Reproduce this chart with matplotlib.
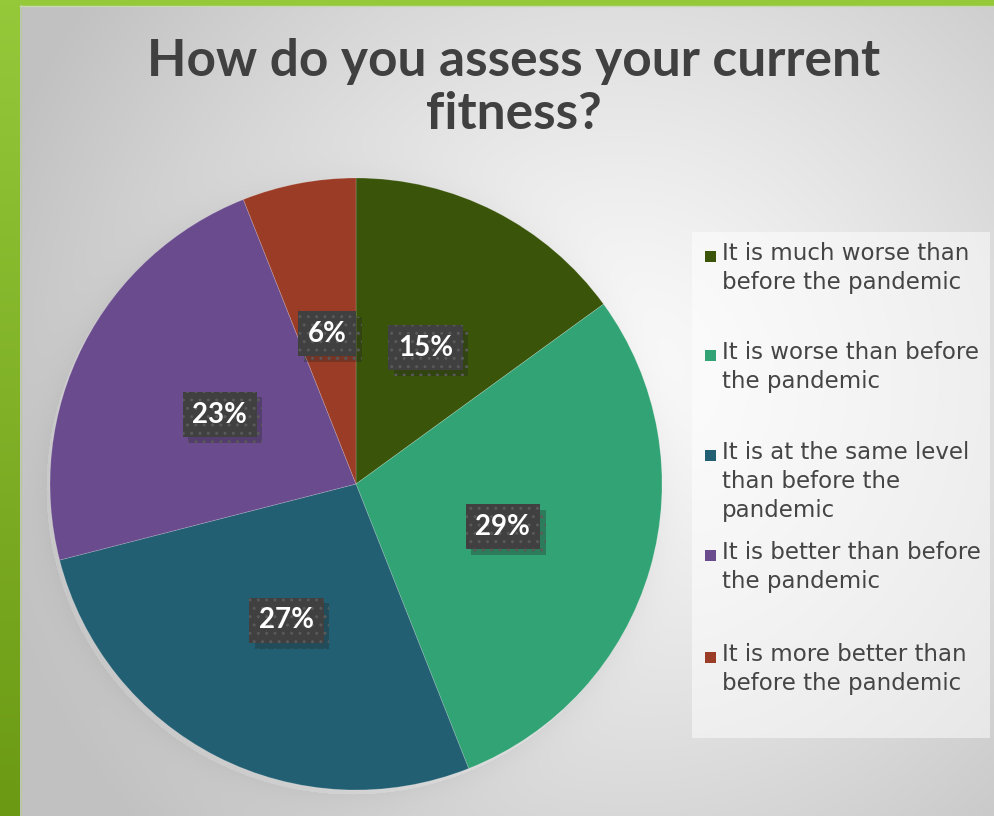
import numpy as np
import matplotlib
matplotlib.use("Agg")
import matplotlib.pyplot as plt
from matplotlib import patheffects
from matplotlib.patches import Rectangle

# ---- data ----
categories = [
    "It is much worse than\nbefore the pandemic",
    "It is worse than before\nthe pandemic",
    "It is at the same level\nthan before the\npandemic",
    "It is better than before\nthe pandemic",
    "It is more better than\nbefore the pandemic",
]
shares = [15, 29, 27, 23, 6]
colors = ["#3a540a", "#31a374", "#225f72", "#6a4b8e", "#9b3c27"]
title = "How do you assess your current\nfitness?"

W, H, DPI = 995, 816, 100
fig = plt.figure(figsize=(W / DPI, H / DPI), dpi=DPI)

# ---- background: soft radial grey gradient with green frame ----
bg = fig.add_axes([0, 0, 1, 1])
bg.set_axis_off()
yy, xx = np.mgrid[0:H, 0:W]
cx, cy = 620, 380
d = np.sqrt((xx - cx) ** 2 + (yy - cy) ** 2)
v = np.clip(0.985 - 0.22 * (d / 640) ** 1.2, 0.76, 1.0)
# soft shadow around the pie, mostly towards the lower left
pcx, pcy, pr = 356, 484, 306
dp = np.sqrt((xx - pcx + 4) ** 2 + (yy - pcy - 4) ** 2)
shade = np.where(dp > pr, 0.04 * np.exp(-(dp - pr) / 16.0), 0.0)
v = v - shade
img = np.dstack([v, v, v])
bg.imshow(img, extent=[0, W, H, 0], aspect="auto", interpolation="bilinear")
bg.set_xlim(0, W)
bg.set_ylim(H, 0)

# green frame (vertical gradient on the left edge, bar on top)
gtop = np.array([0x95, 0xc9, 0x3a]) / 255
gbot = np.array([0x6b, 0x99, 0x14]) / 255
t = np.linspace(0, 1, H)[:, None]
green = (gtop[None, :] * (1 - t) + gbot[None, :] * t)[:, None, :]
bg.imshow(green, extent=[0, 20, H, 0], aspect="auto", zorder=2)
bg.add_patch(Rectangle((0, 0), W, 5, color="#95c93a", zorder=2))
bg.plot([20.5, 20.5], [5, H], color="#b9c9a0", lw=1, zorder=3)
bg.plot([20, W], [5.5, 5.5], color="#c8d8b0", lw=1, zorder=3)

# ---- title ----
fig.text(514 / W, 1 - 88 / H, title, ha="center", va="center",
         fontsize=37, fontweight="bold", color="#404040",
         family=["Lato", "DejaVu Sans"], linespacing=1.14)

# ---- pie ----
r_px = 306
ax = fig.add_axes([(pcx - r_px) / W, (H - pcy - r_px) / H, 2 * r_px / W, 2 * r_px / H])
ax.set_axis_off()
wedges, texts, autotexts = ax.pie(
    shares, colors=colors, startangle=90, counterclock=False, radius=1,
    autopct=lambda p: f"{p:.0f}%", pctdistance=0.5,
    wedgeprops=dict(linewidth=0.6, edgecolor=(1, 1, 1, 0.2)),
    textprops=dict(color="white", fontsize=20, fontweight="bold",
                   family=["Lato", "DejaVu Sans"]),
)
ax.set_xlim(-1, 1)
ax.set_ylim(-1, 1)
ax.set_aspect("auto")

matplotlib.rcParams["hatch.linewidth"] = 1.0
for at in autotexts:
    at.set_bbox(dict(boxstyle="square,pad=0.35", facecolor="#404040",
                     edgecolor="#595959", linewidth=0, hatch=".."))
    at.get_bbox_patch().set_path_effects([
        patheffects.SimplePatchShadow(offset=(4, -4), shadow_rgbFace="#222222", alpha=0.3),
        patheffects.Normal(),
    ])

# ---- legend ----
bg.add_patch(Rectangle((692, 232), 298, 506, facecolor="white", alpha=0.5,
                       edgecolor="none", zorder=1))
slot_top = [257, 356, 456, 556, 658]
for lab, col, y0 in zip(categories, colors, slot_top):
    bg.add_patch(Rectangle((705, y0 - 6), 11, 11, facecolor=col, edgecolor="none", zorder=4))
    bg.text(722, y0 - 15, lab, ha="left", va="top", fontsize=16.5,
            color="#454545", family=["DejaVu Sans"], linespacing=1.33, zorder=4)

fig.savefig("out.png", dpi=DPI)
